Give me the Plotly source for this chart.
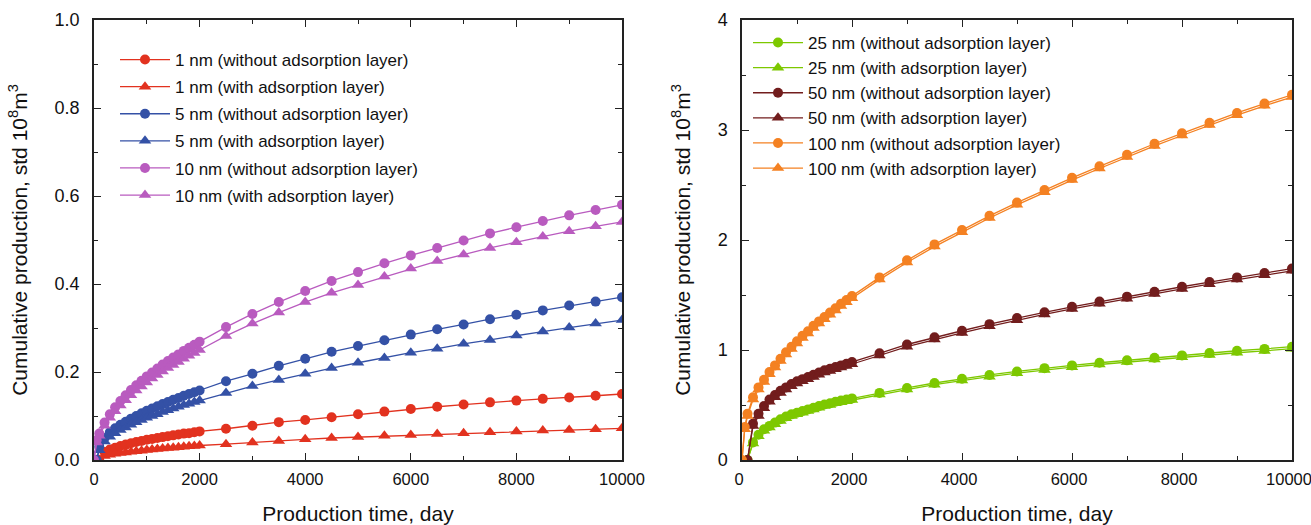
import plotly.graph_objects as go

days = [0, 50, 100, 200, 300, 400, 500, 600, 700, 800, 900, 1000, 1100, 1200, 1300, 1400,
        1500, 1600, 1700, 1800, 1900, 2000, 2500, 3000, 3500, 4000, 4500, 5000, 5500, 6000,
        6500, 7000, 7500, 8000, 8500, 9000, 9500, 10000]

# left panel
nm1_wo = [None, None, 0.0, 0.018, 0.024, 0.028, 0.032, 0.035, 0.038, 0.041, 0.043, 0.046, 0.048,
          0.050, 0.052, 0.054, 0.056, 0.058, 0.060, 0.061, 0.063, 0.065, 0.071, 0.078, 0.086,
          0.091, 0.097, 0.104, 0.110, 0.116, 0.121, 0.126, 0.131, 0.135, 0.139, 0.142, 0.146, 0.150]
nm1_w = [None, None, 0.0, 0.009, 0.012, 0.014, 0.016, 0.017, 0.019, 0.020, 0.021, 0.023, 0.024,
         0.025, 0.026, 0.027, 0.028, 0.029, 0.030, 0.031, 0.032, 0.033, 0.036, 0.040, 0.043,
         0.047, 0.050, 0.052, 0.055, 0.057, 0.059, 0.061, 0.063, 0.065, 0.067, 0.068, 0.070, 0.072]
nm5_wo = [None, 0.0, 0.030, 0.050, 0.063, 0.072, 0.080, 0.087, 0.094, 0.100, 0.106, 0.112, 0.117,
          0.122, 0.127, 0.132, 0.137, 0.141, 0.146, 0.150, 0.154, 0.158, 0.179, 0.196, 0.214,
          0.230, 0.246, 0.259, 0.272, 0.285, 0.297, 0.308, 0.320, 0.330, 0.340, 0.351, 0.360, 0.370]
nm5_w = [None, 0.0, 0.022, 0.042, 0.053, 0.061, 0.068, 0.074, 0.080, 0.086, 0.091, 0.096, 0.100,
         0.104, 0.109, 0.113, 0.117, 0.121, 0.125, 0.128, 0.132, 0.135, 0.152, 0.168, 0.182,
         0.196, 0.209, 0.221, 0.232, 0.244, 0.253, 0.264, 0.273, 0.283, 0.292, 0.301, 0.310, 0.318]
nm10_wo = [0.0, 0.045, 0.060, 0.085, 0.104, 0.120, 0.134, 0.147, 0.159, 0.170, 0.180, 0.190, 0.199,
           0.208, 0.217, 0.225, 0.233, 0.240, 0.248, 0.255, 0.262, 0.269, 0.302, 0.332, 0.359,
           0.384, 0.407, 0.427, 0.447, 0.465, 0.482, 0.499, 0.515, 0.529, 0.543, 0.556, 0.568, 0.580]
nm10_w = [0.0, 0.040, 0.055, 0.078, 0.096, 0.111, 0.124, 0.136, 0.147, 0.158, 0.167, 0.176, 0.185,
          0.193, 0.201, 0.209, 0.216, 0.223, 0.230, 0.237, 0.243, 0.250, 0.282, 0.310, 0.335,
          0.359, 0.380, 0.398, 0.417, 0.435, 0.452, 0.467, 0.482, 0.495, 0.508, 0.520, 0.531, 0.541]

# right panel
nm25_wo = [None, None, 0.0, 0.16, 0.23, 0.28, 0.31, 0.34, 0.37, 0.395, 0.415, 0.43, 0.445, 0.46,
           0.475, 0.49, 0.505, 0.515, 0.53, 0.54, 0.55, 0.56, 0.61, 0.655, 0.70, 0.738, 0.773,
           0.805, 0.835, 0.86, 0.884, 0.906, 0.93, 0.951, 0.972, 0.993, 1.01, 1.03]
nm25_w = [None, None, 0.0, 0.15, 0.215, 0.265, 0.295, 0.325, 0.355, 0.38, 0.40, 0.415, 0.43, 0.445,
          0.46, 0.475, 0.49, 0.50, 0.515, 0.525, 0.535, 0.545, 0.595, 0.64, 0.685, 0.722, 0.757,
          0.789, 0.819, 0.844, 0.868, 0.89, 0.913, 0.934, 0.955, 0.975, 0.992, 1.012]
nm50_wo = [None, None, 0.0, 0.33, 0.42, 0.49, 0.55, 0.59, 0.63, 0.66, 0.69, 0.715, 0.735, 0.755,
           0.775, 0.795, 0.815, 0.83, 0.845, 0.86, 0.875, 0.89, 0.97, 1.05, 1.115, 1.175, 1.235,
           1.29, 1.343, 1.393, 1.44, 1.485, 1.53, 1.575, 1.618, 1.66, 1.70, 1.74]
nm50_w = [None, None, 0.0, 0.31, 0.40, 0.47, 0.53, 0.57, 0.61, 0.64, 0.67, 0.695, 0.715, 0.735,
          0.755, 0.775, 0.795, 0.81, 0.825, 0.84, 0.855, 0.87, 0.95, 1.03, 1.095, 1.155, 1.215,
          1.27, 1.323, 1.373, 1.42, 1.465, 1.51, 1.555, 1.598, 1.64, 1.68, 1.72]
nm100_wo = [0.0, 0.30, 0.42, 0.57, 0.66, 0.73, 0.80, 0.86, 0.92, 0.98, 1.03, 1.08, 1.13, 1.17,
            1.22, 1.26, 1.30, 1.34, 1.38, 1.42, 1.455, 1.49, 1.66, 1.815, 1.96, 2.09, 2.22,
            2.34, 2.455, 2.565, 2.67, 2.775, 2.875, 2.97, 3.065, 3.155, 3.24, 3.32]
nm100_w = [0.0, 0.28, 0.40, 0.55, 0.64, 0.71, 0.78, 0.84, 0.90, 0.96, 1.01, 1.06, 1.11, 1.15,
           1.20, 1.24, 1.28, 1.32, 1.36, 1.40, 1.435, 1.47, 1.64, 1.795, 1.94, 2.07, 2.20,
           2.32, 2.435, 2.545, 2.65, 2.755, 2.855, 2.95, 3.045, 3.135, 3.22, 3.30]

left_series = [
    ("1 nm (without adsorption layer)", nm1_wo, "#E2321F", "circle"),
    ("1 nm (with adsorption layer)", nm1_w, "#E2321F", "triangle-up"),
    ("5 nm (without adsorption layer)", nm5_wo, "#3451A6", "circle"),
    ("5 nm (with adsorption layer)", nm5_w, "#3451A6", "triangle-up"),
    ("10 nm (without adsorption layer)", nm10_wo, "#B95BBF", "circle"),
    ("10 nm (with adsorption layer)", nm10_w, "#B95BBF", "triangle-up"),
]
right_series = [
    ("25 nm (without adsorption layer)", nm25_wo, "#7DC800", "circle"),
    ("25 nm (with adsorption layer)", nm25_w, "#7DC800", "triangle-up"),
    ("50 nm (without adsorption layer)", nm50_wo, "#721D1D", "circle"),
    ("50 nm (with adsorption layer)", nm50_w, "#721D1D", "triangle-up"),
    ("100 nm (without adsorption layer)", nm100_wo, "#F48122", "circle"),
    ("100 nm (with adsorption layer)", nm100_w, "#F48122", "triangle-up"),
]

FONT = "Arial, Liberation Sans, sans-serif"
fig = go.Figure()

for i, (name, vals, col, sym) in enumerate(left_series):
    fig.add_trace(go.Scatter(
        x=days, y=vals, name=name, mode="lines+markers", legendgroup="L%d" % i,
        line=dict(color=col, width=1.3),
        marker=dict(symbol=sym, size=10 if sym == "circle" else 11, color=col),
        xaxis="x", yaxis="y", legend="legend"))

for i, (name, vals, col, sym) in enumerate(right_series):
    fig.add_trace(go.Scatter(
        x=days, y=vals, name=name, mode="lines+markers", legendgroup="R%d" % i,
        line=dict(color=col, width=1.3),
        marker=dict(symbol=sym, size=10 if sym == "circle" else 11, color=col),
        xaxis="x2", yaxis="y2", legend="legend2"))

W, H = 1311, 525
ml, mr, mt, mb = 94, 19, 20, 65
pw = W - ml - mr
ph = H - mt - mb
left_dom = [0, (622 - ml) / pw]
right_dom = [(742 - ml) / pw, 1.0]

xcommon = dict(range=[0, 10000], dtick=2000, tick0=0, tickformat="d",
               ticks="inside", ticklen=7, tickwidth=1.2,
               tickcolor="#222", showline=True, linecolor="#222", linewidth=1.5, mirror="ticks",
               showgrid=False, zeroline=False, ticklabelstandoff=3, ticklabeloverflow="allow",
               minor=dict(dtick=1000, ticks="inside", ticklen=4, tickcolor="#222", showgrid=False),
               tickfont=dict(family=FONT, size=16.5, color="#111"),
               title=dict(text="Production time, day", font=dict(family=FONT, size=21, color="#111"),
                          standoff=21),
               automargin=False)
ycommon = dict(ticks="inside", ticklen=7, tickwidth=1.2, tickcolor="#222",
               showline=True, linecolor="#222", linewidth=1.5, mirror="ticks",
               showgrid=False, zeroline=False, ticklabelstandoff=9,
               tickfont=dict(family=FONT, size=18, color="#111"),
               title=dict(text="Cumulative production, std 10<sup>8</sup>m<sup>3</sup>",
                          font=dict(family=FONT, size=21, color="#111"), standoff=21),
               automargin=False)

fig.update_layout(
    width=W, height=H,
    margin=dict(l=ml, r=mr, t=mt, b=mb),
    paper_bgcolor="white", plot_bgcolor="white",
    font=dict(family=FONT, color="#111"),
    xaxis=dict(domain=left_dom, anchor="y", **xcommon),
    yaxis=dict(domain=[0, 1], anchor="x", range=[0, 1.0], dtick=0.2, tickformat=".1f",
               minor=dict(dtick=0.1, ticks="inside", ticklen=4, tickcolor="#222", showgrid=False),
               **ycommon),
    xaxis2=dict(domain=right_dom, anchor="y2", ticklabelshift=-3, **xcommon),
    yaxis2=dict(domain=[0, 1], anchor="x2", range=[0, 4], dtick=1, tickformat="d",
                minor=dict(dtick=0.5, ticks="inside", ticklen=4, tickcolor="#222", showgrid=False),
                **ycommon),
    legend=dict(x=(115 - ml) / pw, y=1 - (42 - mt) / ph, xanchor="left", yanchor="top",
                bgcolor="rgba(0,0,0,0)", font=dict(family=FONT, size=17, color="#111"),
                itemwidth=50, tracegroupgap=2),
    legend2=dict(x=(748 - ml) / pw, y=1 - (25 - mt) / ph, xanchor="left", yanchor="top",
                 bgcolor="rgba(0,0,0,0)", font=dict(family=FONT, size=17, color="#111"),
                 itemwidth=50, tracegroupgap=0),
    showlegend=True,
)

fig.write_html("out.html", config={"displayModeBar": False})

# remove the default page margin so the figure sits at the window's top-left corner
with open("out.html", "r", encoding="utf-8") as f:
    html = f.read()
html = html.replace("<body>", '<body style="margin:0;overflow:hidden">', 1)
with open("out.html", "w", encoding="utf-8") as f:
    f.write(html)
